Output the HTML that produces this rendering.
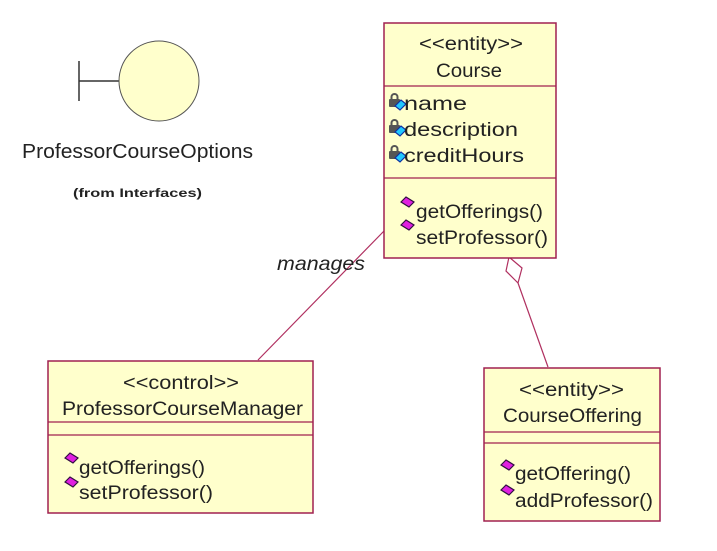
<!DOCTYPE html>
<html><head><meta charset="utf-8"><style>
html,body{margin:0;padding:0;background:#fff;}
svg{display:block;}
text{font-family:"Liberation Sans",sans-serif;font-size:19px;fill:#222;}
</style></head><body>
<svg width="717" height="551" viewBox="0 0 717 551" xmlns="http://www.w3.org/2000/svg">
<defs>
<g id="op"><path d="M0,5 L5,0 L13,5 L8,10 Z" fill="#e020e0" stroke="#301040" stroke-width="1.2"/></g>
<g id="attr"><rect x="0" y="5" width="11" height="8" fill="#555" rx="1"/><path d="M2.5,5 V3 a3,3 0 0 1 6,0 V5" fill="none" stroke="#555" stroke-width="2"/><path d="M6,12 L12,6 L17,10 L11,16 Z" fill="#20c8ff" stroke="#1030a0" stroke-width="1.2"/></g>
</defs>
<!-- boundary -->
<line x1="79" y1="61" x2="79" y2="101" stroke="#333" stroke-width="1.5"/>
<line x1="79" y1="81" x2="119" y2="81" stroke="#333" stroke-width="1.5"/>
<circle cx="159" cy="81" r="40" fill="#ffffcc" stroke="#555" stroke-width="1"/>
<text x="22" y="158" textLength="231" lengthAdjust="spacingAndGlyphs" style="font-size:20px">ProfessorCourseOptions</text>
<text x="73" y="197" textLength="129" lengthAdjust="spacingAndGlyphs" style="font-size:12px;font-weight:bold">(from Interfaces)</text>
<!-- connectors -->
<line x1="384" y1="231" x2="258" y2="360" stroke="#b03060" stroke-width="1.2"/>
<text x="277" y="270" textLength="88" lengthAdjust="spacingAndGlyphs" style="font-style:italic">manages</text>
<path d="M509,257 L506,271 L518,283 L522,268 Z" fill="#fff" stroke="#b03060" stroke-width="1.2"/>
<line x1="518" y1="283" x2="548" y2="367" stroke="#b03060" stroke-width="1.2"/>
<!-- Course -->
<rect x="384" y="23" width="172" height="235" fill="#ffffcc" stroke="#a02050" stroke-width="1.5"/>
<line x1="384" y1="86" x2="556" y2="86" stroke="#a02050" stroke-width="1.2"/>
<line x1="384" y1="178" x2="556" y2="178" stroke="#a02050" stroke-width="1.2"/>
<text x="419" y="50" textLength="104" lengthAdjust="spacingAndGlyphs">&lt;&lt;entity&gt;&gt;</text>
<text x="436" y="77" textLength="66" lengthAdjust="spacingAndGlyphs">Course</text>
<use href="#attr" x="389" y="94"/><text x="404" y="110" textLength="63" lengthAdjust="spacingAndGlyphs">name</text>
<use href="#attr" x="389" y="120"/><text x="404" y="136" textLength="114" lengthAdjust="spacingAndGlyphs">description</text>
<use href="#attr" x="389" y="146"/><text x="404" y="162" textLength="120" lengthAdjust="spacingAndGlyphs">creditHours</text>
<use href="#op" x="401" y="197"/><text x="416" y="218" textLength="127" lengthAdjust="spacingAndGlyphs">getOfferings()</text>
<use href="#op" x="401" y="220"/><text x="416" y="244" textLength="132" lengthAdjust="spacingAndGlyphs">setProfessor()</text>
<!-- PCM -->
<rect x="48" y="361" width="265" height="152" fill="#ffffcc" stroke="#a02050" stroke-width="1.5"/>
<line x1="48" y1="422" x2="313" y2="422" stroke="#a02050" stroke-width="1.2"/>
<line x1="48" y1="435" x2="313" y2="435" stroke="#a02050" stroke-width="1.2"/>
<text x="123" y="389" textLength="116" lengthAdjust="spacingAndGlyphs">&lt;&lt;control&gt;&gt;</text>
<text x="62" y="415" textLength="241" lengthAdjust="spacingAndGlyphs">ProfessorCourseManager</text>
<use href="#op" x="65" y="453"/><text x="79" y="474" textLength="126" lengthAdjust="spacingAndGlyphs">getOfferings()</text>
<use href="#op" x="65" y="477"/><text x="79" y="499" textLength="134" lengthAdjust="spacingAndGlyphs">setProfessor()</text>
<!-- CourseOffering -->
<rect x="484" y="368" width="176" height="153" fill="#ffffcc" stroke="#a02050" stroke-width="1.5"/>
<line x1="484" y1="432" x2="660" y2="432" stroke="#a02050" stroke-width="1.2"/>
<line x1="484" y1="443" x2="660" y2="443" stroke="#a02050" stroke-width="1.2"/>
<text x="519" y="396" textLength="105" lengthAdjust="spacingAndGlyphs">&lt;&lt;entity&gt;&gt;</text>
<text x="503" y="422" textLength="139" lengthAdjust="spacingAndGlyphs">CourseOffering</text>
<use href="#op" x="501" y="460"/><text x="515" y="480" textLength="116" lengthAdjust="spacingAndGlyphs">getOffering()</text>
<use href="#op" x="501" y="485"/><text x="515" y="507" textLength="138" lengthAdjust="spacingAndGlyphs">addProfessor()</text>
</svg>
</body></html>
